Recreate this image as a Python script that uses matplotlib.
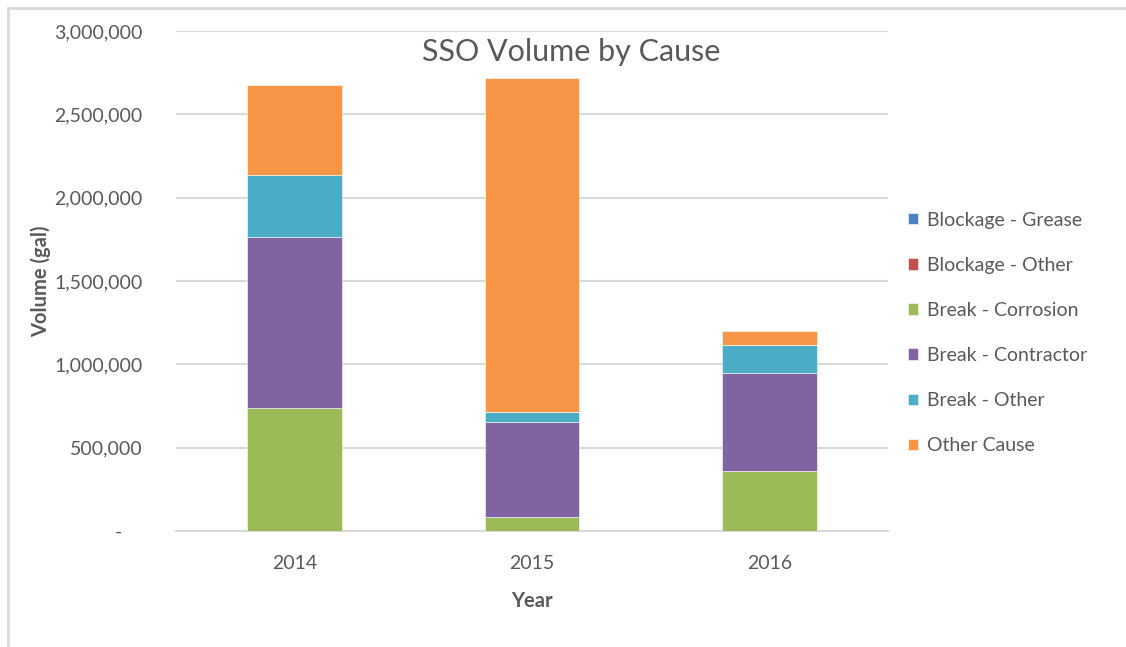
import matplotlib
matplotlib.use("Agg")
import matplotlib.pyplot as plt
from matplotlib.patches import Rectangle
import numpy as np

years = ["2014", "2015", "2016"]
series_names = ["Blockage - Grease", "Blockage - Other", "Break - Corrosion",
                "Break - Contractor", "Break - Other", "Other Cause"]
blockage_grease = [0, 0, 0]
blockage_other = [0, 0, 0]
break_corrosion = [737000, 84000, 362000]
break_contractor = [1027000, 570000, 586000]
break_other = [373000, 62000, 168000]
other_cause = [537000, 2002000, 84000]
colors = ["#4F81BD", "#C0504D", "#9BBB59", "#8064A2", "#4BACC6", "#F79646"]
yticks = [0, 500000, 1000000, 1500000, 2000000, 2500000, 3000000]
ytick_labels = ["-    ", "500,000", "1,000,000", "1,500,000", "2,000,000", "2,500,000", "3,000,000"]

plt.rcParams['font.family'] = ['Lato', 'DejaVu Sans']
fig = plt.figure(figsize=(11.26, 6.47), dpi=100)
fig.patches.append(Rectangle((8/1126, -0.1), 1.2, 1 - 8/647 + 0.1, transform=fig.transFigure,
                             fill=False, edgecolor="#D9D9D9", linewidth=2, zorder=0))
ax = fig.add_axes([176/1126, 1 - 531/647, (888 - 176)/1126, (531 - 31)/647])

data = [blockage_grease, blockage_other, break_corrosion, break_contractor, break_other, other_cause]
x = np.arange(len(years))
bottom = np.zeros(len(years))
handles = []
for name, vals, c in zip(series_names, data, colors):
    h = ax.bar(x, vals, width=0.4, bottom=bottom, color=c, label=name,
               edgecolor="white", linewidth=0.4, zorder=3)
    handles.append(h)
    bottom += np.array(vals)

ax.set_xlim(-0.5, 2.5)
ax.set_ylim(0, 3000000)
ax.set_yticks(yticks)
ax.set_yticklabels(ytick_labels)
ax.set_xticks(x)
ax.set_xticklabels(years)
ax.grid(axis="y", color="#D9D9D9", linewidth=1.5, zorder=0)
ax.set_axisbelow(True)
for s in ["top", "right", "left"]:
    ax.spines[s].set_visible(False)
ax.spines["bottom"].set_color("#D9D9D9")
ax.spines["bottom"].set_linewidth(1.5)
ax.tick_params(axis="both", length=0, labelsize=14, labelcolor="#595959")
ax.tick_params(axis="y", pad=24)
ax.tick_params(axis="x", pad=17)
ax.set_ylabel("Volume (gal)", fontsize=14.5, fontweight="bold", color="#595959", labelpad=2)
ax.set_xlabel("Year", fontsize=14.5, fontweight="bold", color="#595959", labelpad=14)
fig.text(571/1126, 1 - 52/647, "SSO Volume by Cause", ha="center", va="center",
         fontsize=22, color="#595959")

leg = fig.legend(handles=handles, labels=series_names, loc="center left",
                 bbox_to_anchor=(890/1126, 1 - 333/647), frameon=False, fontsize=14,
                 labelcolor="#595959", handlelength=0.55, handleheight=0.55,
                 handletextpad=0.45, labelspacing=1.45)

fig.savefig("out.png", dpi=100)
